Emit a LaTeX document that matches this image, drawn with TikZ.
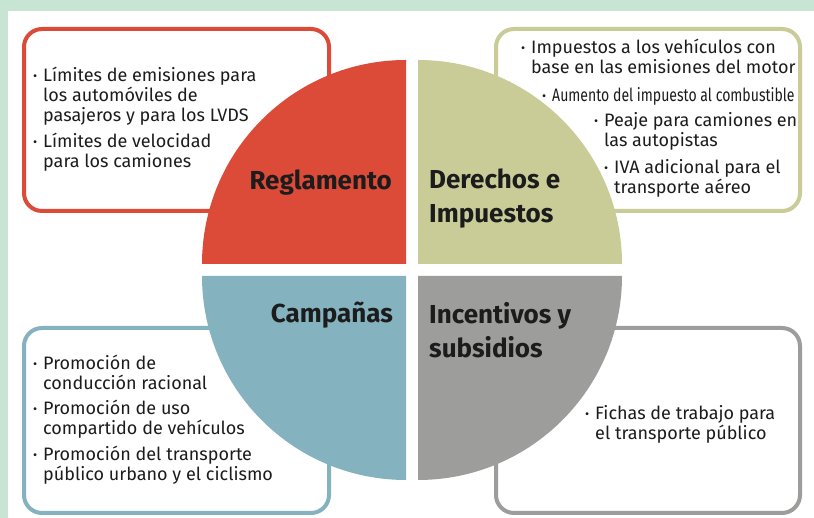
\documentclass[tikz,border=0pt]{standalone}
\usepackage{fontspec}
\setmainfont{Fira Sans}
\usetikzlibrary{positioning}

\definecolor{fondo}{RGB}{200,228,210}
\definecolor{rojo}{RGB}{220,74,56}
\definecolor{oliva}{RGB}{202,204,152}
\definecolor{azul}{RGB}{132,178,191}
\definecolor{gris}{RGB}{157,158,156}
\definecolor{tinta}{RGB}{28,28,28}

\newcommand{\bul}{\llap{\raisebox{1.5pt}{\scalebox{0.7}{\textbullet}}\hspace{6pt}}}

\begin{document}
\begin{tikzpicture}[x=1pt, y=1pt,
    caja/.style={line width=4pt, rounded corners=18pt, fill=white},
    lista/.style={anchor=base west, align=left, inner sep=0pt, text=tinta,
        font=\fontsize{18}{20}\selectfont},
    titulo/.style={align=left, inner sep=0pt, text=tinta,
        font=\fontsize{26}{34}\selectfont\bfseries}]
    \useasboundingbox (0,0) rectangle (814,518);
    \fill[fondo] (0,0) rectangle (814,518);
    \fill[white] (8,0) rectangle (814,507);

    % cajas
    \draw[caja, draw=rojo] (24,307) rectangle (329,489);
    \draw[caja, draw=oliva] (496,307) rectangle (800,489);
    \draw[caja, draw=azul] (24,5) rectangle (329,190);
    \draw[caja, draw=gris] (496,5) rectangle (800,190);

    % cuadrantes
    \fill[rojo] (406,254) -- (202,254) arc[start angle=180, end angle=90, radius=204] -- cycle;
    \fill[oliva] (418,254) -- (418,458) arc[start angle=90, end angle=0, radius=204] -- cycle;
    \fill[azul] (406,242) -- (406,38) arc[start angle=270, end angle=180, radius=204] -- cycle;
    \fill[gris] (418,242) -- (622,242) arc[start angle=0, end angle=-90, radius=204] -- cycle;

    % base = ultima linea
    \node[titulo, anchor=base east] (regl) at (392,328) {Reglamento};
    \node[titulo, anchor=base west] (dere) at (429,295) {Derechos e\\Impuestos};
    \node[titulo, anchor=base east] (camp) at (393,195) {Campañas};
    \node[titulo, anchor=base west] (ince) at (429,160) {Incentivos y\\subsidios};

    \node[lista] (r1) at (43,396) {\bul Límites de emisiones para\\los automóviles de\\pasajeros y para los LVDS};
    \node[lista] (r2) at (43,350) {\bul Límites de velocidad\\para los camiones};

    \node[lista] (o1) at (531,444) {\bul Impuestos a los vehículos con\\base en las emisiones del motor};
    \node[lista] (o2) at (552,416) {\bul\scalebox{0.78}[1]{Aumento del impuesto al combustible}};
    \node[lista] (o3) at (604,371) {\bul Peaje para camiones en\\las autopistas};
    \node[lista] (o4) at (614,324) {\bul IVA adicional para el\\transporte aéreo};

    \node[lista] (c1) at (43,128) {\bul Promoción de\\conducción racional};
    \node[lista] (c2) at (43,83) {\bul Promoción de uso\\compartido de vehículos};
    \node[lista] (c3) at (43,37) {\bul Promoción del transporte\\público urbano y el ciclismo};

    \node[lista] (g1) at (595,78) {\bul Fichas de trabajo para\\el transporte público};
\end{tikzpicture}
\end{document}
